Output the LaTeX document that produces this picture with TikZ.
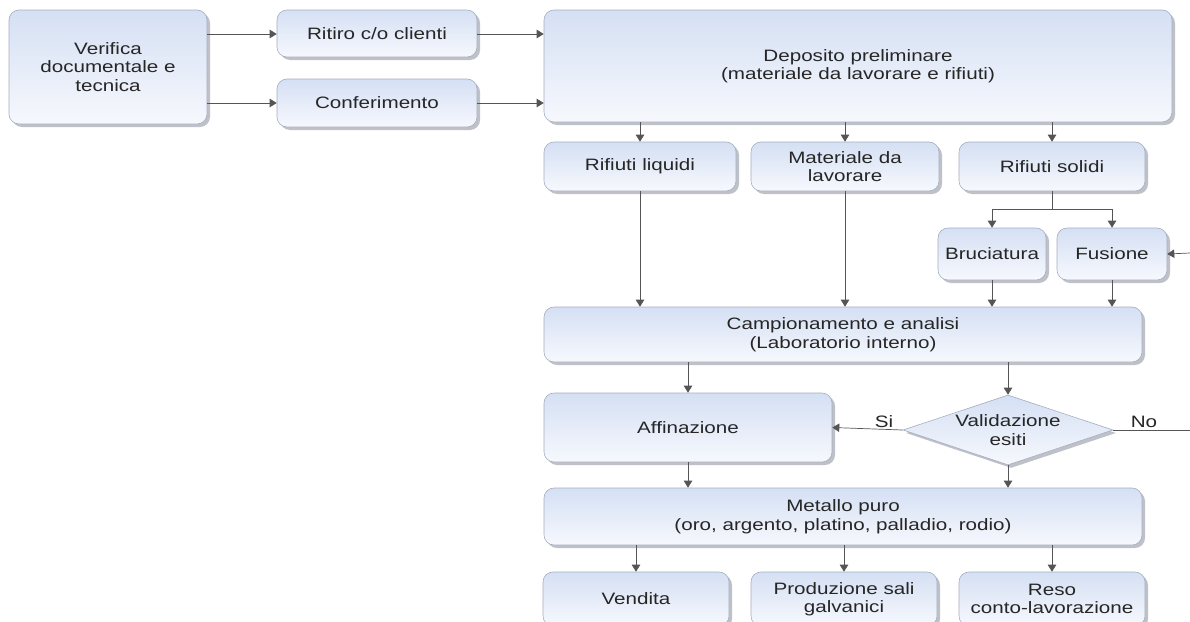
\documentclass[tikz,border=0pt]{standalone}
\usepackage{fontspec}
\setmainfont{Liberation Sans}[FakeStretch=1.25]
\usetikzlibrary{shapes.geometric,shadows,arrows.meta}
\definecolor{boxtop}{HTML}{D5E0F4}
\definecolor{boxbot}{HTML}{F6F8FD}
\definecolor{boxline}{HTML}{A4AEC0}
\definecolor{arrowc}{HTML}{555555}
\definecolor{shadowc}{HTML}{AEB2BA}
\begin{document}
\begin{tikzpicture}[x=1pt,y=-1pt,
  box/.style={draw=boxline, line width=0.6pt, rounded corners=10pt, top color=boxtop, bottom color=boxbot,
    drop shadow={shadow xshift=3pt, shadow yshift=-3pt, fill=shadowc, opacity=0.8},
    align=center, inner sep=0pt, font=\fontsize{16.5}{18.5}\selectfont, text=black!85},
  dia/.style={box, rounded corners=0pt, shape=diamond, aspect=3},
  arr/.style={draw=arrowc, line width=0.7pt, -{Triangle[length=7pt,width=8.5pt]}},
  ln/.style={draw=arrowc, line width=0.7pt},
  lbl/.style={font=\fontsize{16.5}{18.5}\selectfont, text=black!85, inner sep=0pt}]
\useasboundingbox (0,0) rectangle (1190,621);
% top row
\node[box, minimum width=198pt, minimum height=114pt] (verif) at (108,67) {Verifica\\documentale e\\tecnica};
\node[box, minimum width=200pt, minimum height=47pt] (ritiro) at (377,33.5) {Ritiro c/o clienti};
\node[box, minimum width=200pt, minimum height=48pt] (conf) at (377,103) {Conferimento};
\node[box, minimum width=628pt, minimum height=112pt] (dep) at (858,66) {Deposito preliminare\\(materiale da lavorare e rifiuti)};
% second row
\node[box, minimum width=192pt, minimum height=49pt] (liq) at (640,166.5) {Rifiuti liquidi};
\node[box, minimum width=188pt, minimum height=49pt] (mat) at (845,166.5) {Materiale da\\lavorare};
\node[box, minimum width=186pt, minimum height=49pt] (sol) at (1052,166.5) {Rifiuti solidi};
\node[box, minimum width=108pt, minimum height=52pt] (bruc) at (992,254) {Bruciatura};
\node[box, minimum width=110pt, minimum height=52pt] (fus) at (1112,254) {Fusione};
% middle
\node[box, minimum width=598pt, minimum height=55pt] (camp) at (843,334.5) {Campionamento e analisi\\(Laboratorio interno)};
\node[box, minimum width=288pt, minimum height=69pt] (aff) at (688,427.5) {Affinazione};
\node[dia, minimum width=210pt, minimum height=70pt] (val) at (1008,430) {Validazione\\esiti};
\node[box, minimum width=598pt, minimum height=57pt] (metal) at (843,516.5) {Metallo puro\\(oro, argento, platino, palladio, rodio)};
% bottom row
\node[box, minimum width=186pt, minimum height=54pt] (vend) at (636,599) {Vendita};
\node[box, minimum width=186pt, minimum height=54pt] (prod) at (844,599) {Produzione sali\\galvanici};
\node[box, minimum width=186pt, minimum height=54pt] (reso) at (1052,599) {Reso\\conto-lavorazione};
% coordinates
\coordinate (sj) at (1052,209);
\coordinate (fin) at (1190,253);
\coordinate (noend) at (1190,430);
% connectors
\draw[arr] (verif.east |- 0,34) -- (ritiro.west |- 0,34);
\draw[arr] (verif.east |- conf.west) -- (conf.west);
\draw[arr] (ritiro.east |- 0,34) -- (dep.west |- 0,34);
\draw[arr] (conf.east) -- (conf.east -| dep.west);
\draw[arr] (dep.south -| liq.north) -- (liq.north);
\draw[arr] (dep.south -| mat.north) -- (mat.north);
\draw[arr] (dep.south -| sol.north) -- (sol.north);
\draw[ln] (sol.south) -- (sj);
\draw[arr] (sj) -| (bruc.north);
\draw[arr] (sj) -| (fus.north);
\draw[arr] (fin) -- (fus.east);
\draw[arr] (liq.south) -- (liq.south |- camp.north);
\draw[arr] (mat.south) -- (mat.south |- camp.north);
\draw[arr] (bruc.south) -- (bruc.south |- camp.north);
\draw[arr] (fus.south) -- (fus.south |- camp.north);
\draw[arr] (camp.south -| aff.north) -- (aff.north);
\draw[arr] (camp.south -| val.north) -- (val.north);
\draw[arr] (val.west) -- (aff.east);
\draw[ln] (val.east) -- (noend);
\node[lbl] (si) at (884,422) {Si};
\node[lbl] (no) at (1144,422) {No};
\draw[arr] (aff.south) -- (aff.south |- metal.north);
\draw[arr] (val.south) -- (val.south |- metal.north);
\draw[arr] (metal.south -| vend.north) -- (vend.north);
\draw[arr] (metal.south -| prod.north) -- (prod.north);
\draw[arr] (metal.south -| reso.north) -- (reso.north);
\end{tikzpicture}
\end{document}
